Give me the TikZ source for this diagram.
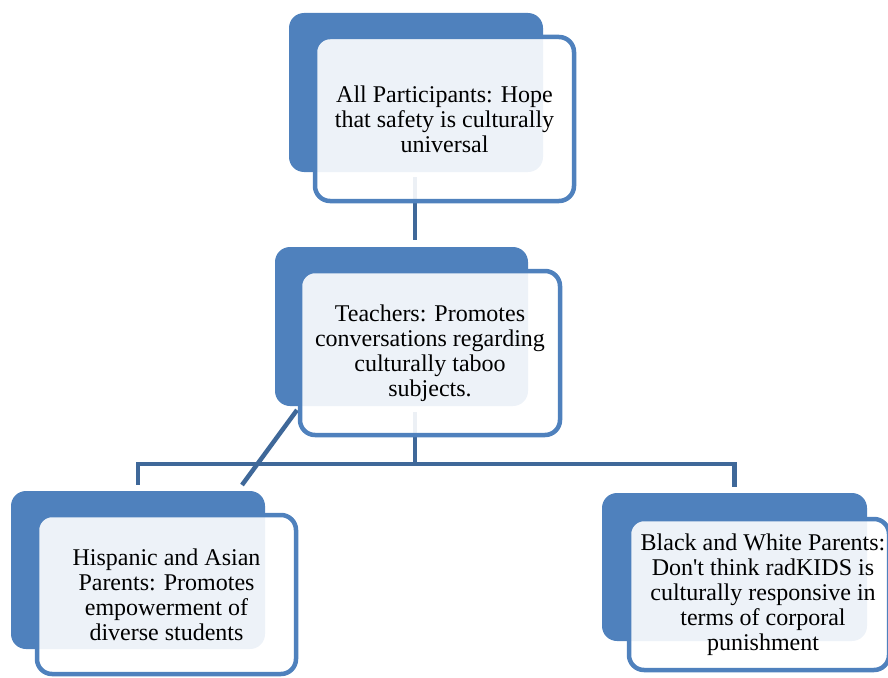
\documentclass[tikz,border=0pt]{standalone}
\usepackage{fontspec}
\setmainfont{Liberation Serif}[Ligatures=TeXOff]
\definecolor{boxblue}{HTML}{4F81BD}
\definecolor{linkblue}{HTML}{3F6899}
\begin{document}
\begin{tikzpicture}[x=1pt,y=-1pt,
  backbox/.style={fill=boxblue,draw=none,rounded corners=15pt,inner sep=0pt,outer sep=0pt},
  frontbox/.style={draw=boxblue,line width=4.5pt,fill=white,fill opacity=0.9,text opacity=1,
    rounded corners=15pt,inner sep=0pt,outer sep=0pt,align=center,
    font=\fontsize{24}{25}\selectfont},
  link/.style={draw=linkblue,line width=4.5pt}]
\useasboundingbox (0,0) rectangle (888,677);
% back boxes
\node[backbox,minimum width=254pt,minimum height=159pt] (n1b) at (416,92.5) {};
\node[backbox,minimum width=253pt,minimum height=159pt] (n2b) at (401.5,326.5) {};
\node[backbox,minimum width=254pt,minimum height=158pt] (n3b) at (138,570) {};
\node[backbox,minimum width=265pt,minimum height=148pt] (n4b) at (734.5,567) {};
% connectors
\coordinate (j) at (415,464);
\coordinate (d1) at (297,410);
\coordinate (d2) at (242,485);
\draw[link,shorten <=5pt,shorten >=7pt] (n1b.south -| j) -- (n2b.north -| j);
\draw[link,shorten <=6pt] (n2b.south -| j) -- (j);
\draw[link,shorten >=6pt] (j) -| (n3b.north);
\draw[link,shorten >=6pt] (j) -| (n4b.north);
\draw[link] (d1) -- (d2);
% front boxes
\node[frontbox,minimum width=259pt,minimum height=164pt] (n1f) at (444.5,119)
  {All Participants: Hope\\that safety is culturally\\universal};
\node[frontbox,minimum width=260pt,minimum height=164pt] (n2f) at (430,353)
  {Teachers: Promotes\\conversations regarding\\culturally taboo\\subjects.};
\node[frontbox,minimum width=259pt,minimum height=159pt] (n3f) at (166.5,594.5)
  {Hispanic and Asian\\Parents: Promotes\\empowerment of\\diverse students};
\node[frontbox,minimum width=260pt,minimum height=151pt] (n4f) at (759,594.5)
  {\hspace*{8pt}Black and White Parents:\\\hspace*{8pt}Don't think radKIDS is\\\hspace*{8pt}culturally responsive in\\\hspace*{8pt}terms of corporal\\\hspace*{8pt}punishment};
\end{tikzpicture}
\end{document}
